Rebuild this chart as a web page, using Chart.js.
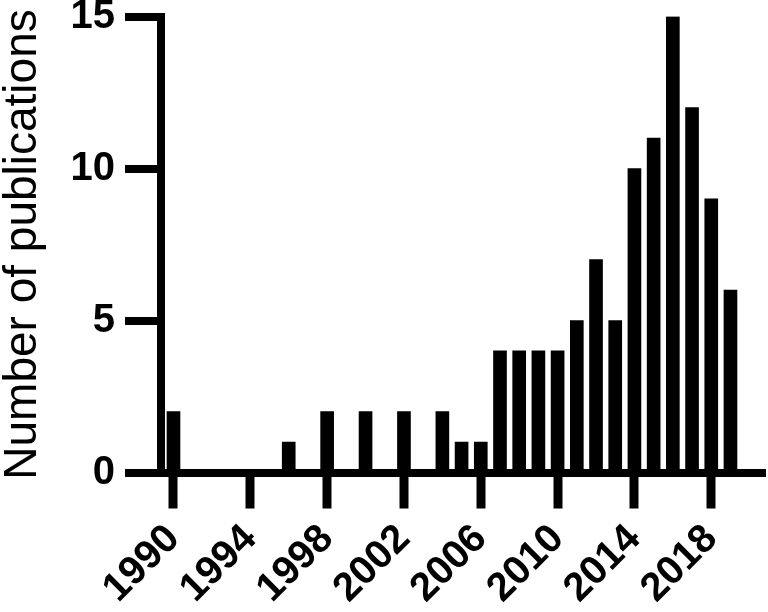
<!DOCTYPE html>
<html>
<head>
<meta charset="utf-8">
<script src="https://cdn.jsdelivr.net/npm/chart.js@4.4.1/dist/chart.umd.min.js"></script>
<style>
  html, body { margin: 0; padding: 0; background: #ffffff; }
  #wrap { width: 768px; height: 612px; }
</style>
</head>
<body>
<div id="wrap"><canvas id="c" width="768" height="612"></canvas></div>
<script>
const years = [1990, 1991, 1992, 1993, 1994, 1995, 1996, 1997, 1998, 1999,
               2000, 2001, 2002, 2003, 2004, 2005, 2006, 2007, 2008, 2009,
               2010, 2011, 2012, 2013, 2014, 2015, 2016, 2017, 2018, 2019];
const publications = [2, 0, 0, 0, 0, 0, 1, 0, 2, 0,
                      2, 0, 2, 0, 2, 1, 1, 4, 4, 4,
                      4, 5, 7, 5, 10, 11, 15, 12, 9, 6];
const xTickYears = [1990, 1994, 1998, 2002, 2006, 2010, 2014, 2018];
const yTickValues = [0, 5, 10, 15];
const yTitle = 'Number of publications';

const FONT = '"Liberation Sans", Arial, Helvetica, sans-serif';

const points = years.map((y, i) => ({ x: y, y: publications[i] }));

new Chart(document.getElementById('c'), {
  type: 'bar',
  data: {
    datasets: [{
      data: points,
      backgroundColor: '#000000',
      borderWidth: 0,
      barThickness: 13
    }]
  },
  options: {
    responsive: false,
    animation: false,
    devicePixelRatio: 1,
    layout: { padding: { top: 16.5, right: 2, left: 0, bottom: 0 } },
    plugins: { legend: { display: false }, tooltip: { enabled: false } },
    scales: {
      x: {
        type: 'linear',
        offset: false,
        min: 1989.35,
        max: 2020.85,
        afterBuildTicks: (s) => { s.ticks = xTickYears.map(v => ({ value: v })); },
        afterFit: (s) => { s.paddingLeft = 0; s.paddingRight = 0; s.height = 139.5; },
        border: { display: true, color: '#000000', width: 8 },
        grid: {
          display: true,
          offset: false,
          drawOnChartArea: false,
          drawTicks: true,
          lineWidth: 0,
          tickLength: 36,
          tickWidth: 9,
          tickColor: '#000000'
        },
        ticks: {
          autoSkip: false,
          maxRotation: 45,
          minRotation: 45,
          padding: 7,
          color: '#000000',
          font: { family: FONT, size: 40, weight: 'bold' },
          callback: (v) => String(v)
        }
      },
      y: {
        type: 'linear',
        min: 0,
        max: 15,
        afterBuildTicks: (s) => { s.ticks = yTickValues.map(v => ({ value: v })); },
        afterFit: (s) => { s.paddingTop = 0; s.paddingBottom = 0; s.width = 161; },
        border: { display: true, color: '#000000', width: 8 },
        grid: {
          display: true,
          drawOnChartArea: false,
          drawTicks: true,
          lineWidth: 0,
          tickLength: 36,
          tickWidth: 8,
          tickColor: '#000000'
        },
        ticks: {
          padding: 10,
          color: '#000000',
          font: { family: FONT, size: 40, weight: 'bold' }
        },
        title: {
          display: true,
          text: yTitle,
          color: '#000000',
          padding: { top: -4, bottom: 0 },
          font: { family: FONT, size: 46, weight: 'normal' }
        }
      }
    }
  }
});
</script>
</body>
</html>
